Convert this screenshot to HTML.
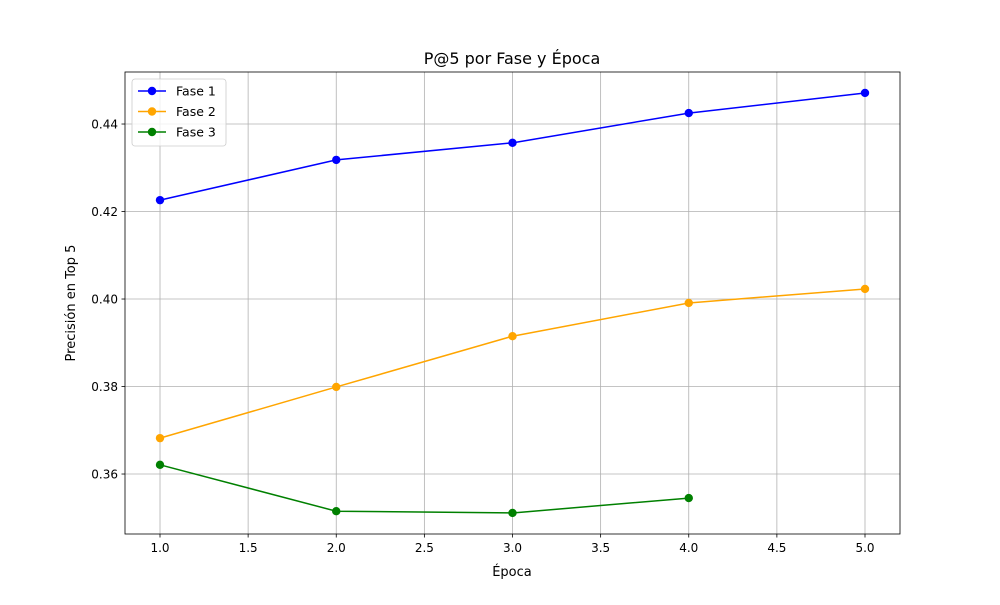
<!DOCTYPE html>
<html><head><meta charset="utf-8"><style>
body{margin:0;background:#fff;}
svg text{font-family:"DejaVu Sans","Liberation Sans",sans-serif;fill:#000;}
</style></head><body>
<svg id="chart" width="1000" height="600">
<rect width="1000" height="600" fill="#fff"/>
<g id="grid"></g>
<g id="series"></g>
<rect x="125" y="72" width="775" height="462" fill="none" stroke="#000" stroke-width="0.8"/>
<g id="axes"></g>
<text x="512" y="64" font-size="16" text-anchor="middle">P@5 por Fase y Época</text>
<text x="512" y="576" font-size="13" text-anchor="middle">Época</text>
<text x="75" y="303" font-size="13" text-anchor="middle" transform="rotate(-90 75 303)">Precisión en Top 5</text>
<g id="legend"></g>
</svg>
<script>
const epochs1=[1,2,3,4,5];
const fase1=[0.4226,0.4318,0.4357,0.4425,0.4471];
const epochs2=[1,2,3,4,5];
const fase2=[0.3682,0.3799,0.3915,0.3991,0.4023];
const epochs3=[1,2,3,4];
const fase3=[0.3621,0.3515,0.3511,0.3545];
const xTicks=[1.0,1.5,2.0,2.5,3.0,3.5,4.0,4.5,5.0];
const yTicks=[0.36,0.38,0.40,0.42,0.44];
const seriesNames=["Fase 1","Fase 2","Fase 3"];
const seriesColors=["#0000ff","#ffa500","#008000"];

const X0=125,X1=900,Y0=534,Y1=72;
const xMin=0.8014,xMax=5.1986,yMin=0.34629,yMax=0.45189;
const sx=v=>X0+(v-xMin)/(xMax-xMin)*(X1-X0);
const sy=v=>Y0-(v-yMin)/(yMax-yMin)*(Y0-Y1);
const NS="http://www.w3.org/2000/svg";
function mk(tag,attrs,parent){const e=document.createElementNS(NS,tag);for(const k in attrs)e.setAttribute(k,attrs[k]);parent.appendChild(e);return e;}
const grid=document.getElementById('grid'),axes=document.getElementById('axes'),ser=document.getElementById('series'),leg=document.getElementById('legend');
xTicks.forEach(t=>{const x=sx(t);
const g=mk('line',{x1:x,x2:x,y1:Y1,y2:Y0,stroke:'#b0b0b0','stroke-width':0.8},grid);

const tk=mk('line',{x1:x,x2:x,y1:Y0,y2:Y0+3.5,stroke:'#000','stroke-width':0.8},axes);

const tx=mk('text',{x:x,y:Y0+18,'font-size':12,'text-anchor':'middle'},axes);tx.textContent=t.toFixed(1);
});
yTicks.forEach(t=>{const y=sy(t);
const g=mk('line',{x1:X0,x2:X1,y1:y,y2:y,stroke:'#b0b0b0','stroke-width':0.8},grid);

const tk=mk('line',{x1:X0-3.5,x2:X0,y1:y,y2:y,stroke:'#000','stroke-width':0.8},axes);

const tx=mk('text',{x:X0-7,y:y+4.5,'font-size':12,'text-anchor':'end'},axes);tx.textContent=t.toFixed(2);
});
const all=[[epochs1,fase1],[epochs2,fase2],[epochs3,fase3]];
all.forEach(([xs,ys],i)=>{const c=seriesColors[i];
const pl=mk('polyline',{points:xs.map((x,j)=>sx(x)+','+sy(ys[j])).join(' '),fill:'none',stroke:c,'stroke-width':1.5},ser);

xs.forEach((x,j)=>{const p=mk('circle',{cx:sx(x),cy:sy(ys[j]),r:4.2,fill:c},ser);
});});
const box=mk('rect',{x:132,y:79,width:94,height:67,rx:3,fill:'#fff','fill-opacity':0.8,stroke:'#ccc','stroke-width':0.8},leg);

seriesNames.forEach((n,i)=>{const y=91+i*20.5,c=seriesColors[i];
const l=mk('line',{x1:138,x2:166,y1:y,y2:y,stroke:c,'stroke-width':1.5},leg);

const d=mk('circle',{cx:152,cy:y,r:4.2,fill:c},leg);

const t=mk('text',{x:176,y:y+4.5,'font-size':12.5},leg);t.textContent=n;
});
</script>
</body></html>
